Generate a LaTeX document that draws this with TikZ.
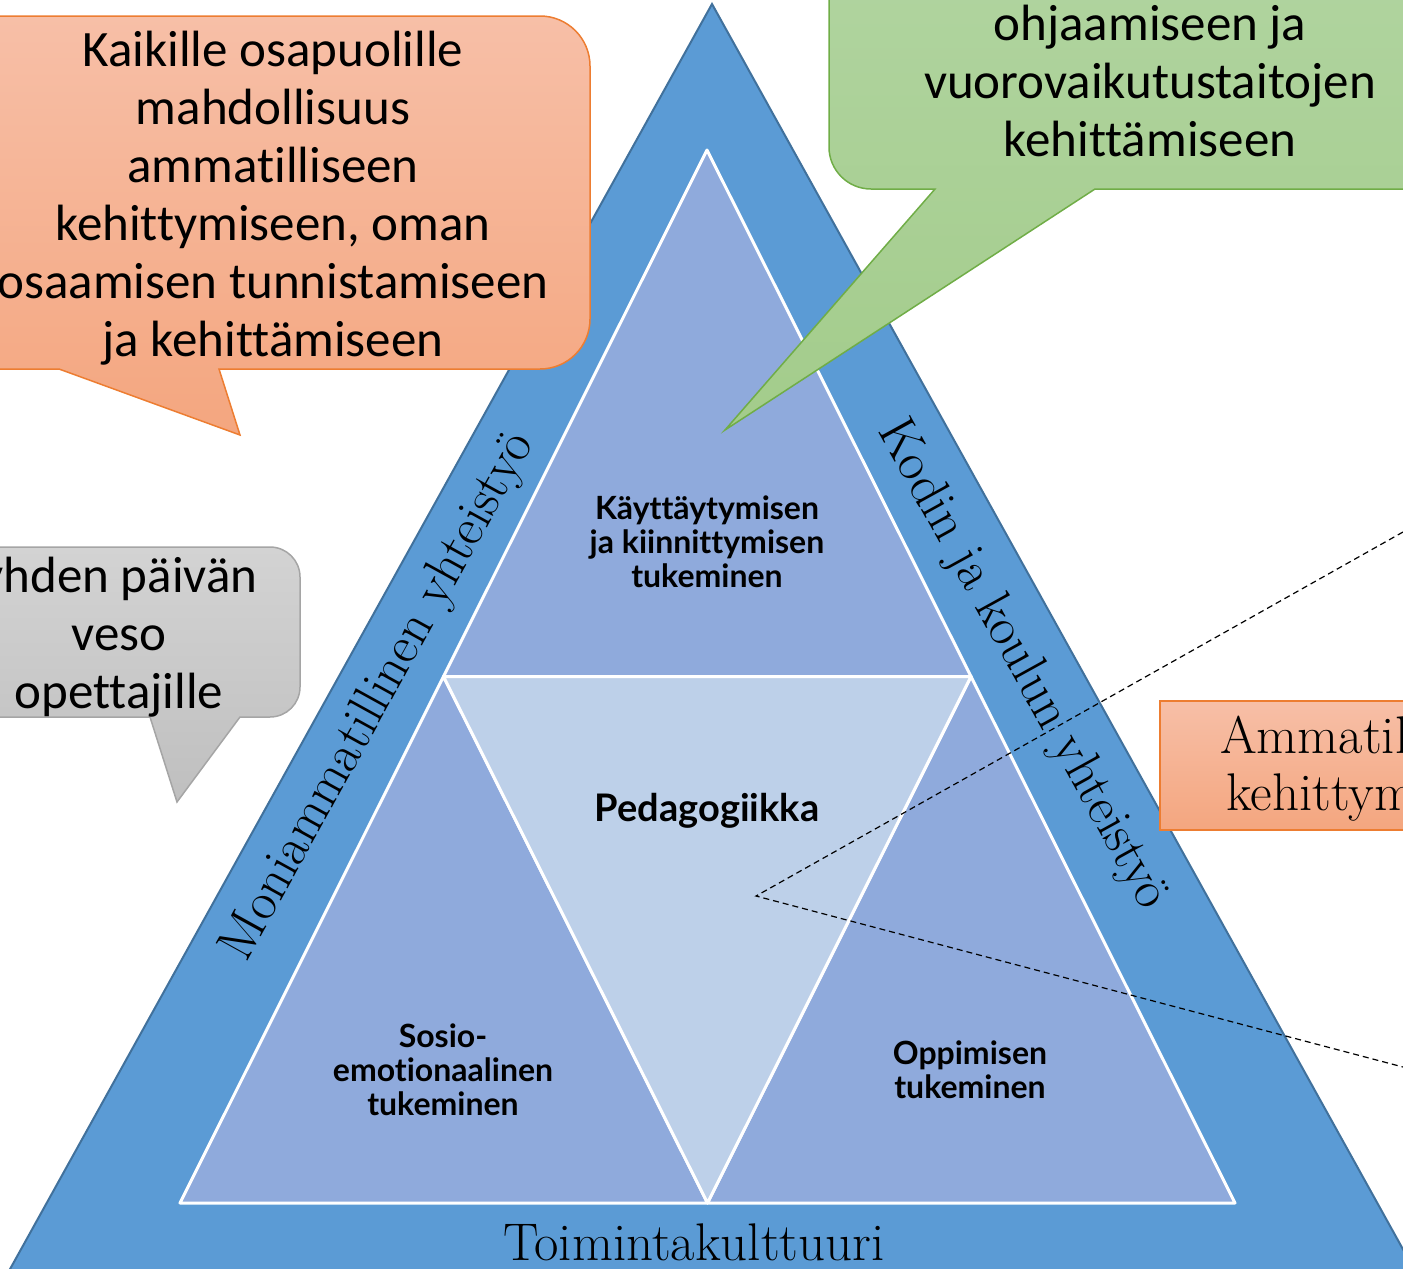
\documentclass[tikz,border=0pt]{standalone}
\usepackage{fontspec}
\newfontfamily\calibri[Ligatures={NoCommon,NoContextual}]{Carlito}
\newfontfamily\lato[Ligatures={NoCommon,NoContextual}]{Lato}
\usetikzlibrary{positioning}
\definecolor{outerblue}{HTML}{5B9BD5}
\definecolor{edgeblue}{HTML}{41719C}
\definecolor{midblue}{HTML}{8FAADC}
\definecolor{paleblue}{HTML}{BDD0E9}
\definecolor{orangetop}{HTML}{F7BFA7}
\definecolor{orangebot}{HTML}{F4A67F}
\definecolor{orangeedge}{HTML}{ED7D31}
\definecolor{greentop}{HTML}{B2D5A2}
\definecolor{greenbot}{HTML}{A3CC8B}
\definecolor{greenedge}{HTML}{70AD47}
\definecolor{graytop}{HTML}{D3D3D3}
\definecolor{graybot}{HTML}{BFBFBF}
\definecolor{grayedge}{HTML}{A5A5A5}
\tikzset{
  piece/.style={
    fill=#1,
    draw=white,
    line width=3pt,
    line join=round,
  },
  bubble/.style 2 args={
    top color=#1,
    bottom color=#2,
    line width=1.5pt,
  },
  callout text/.style={
    align=center,
    font=\calibri\fontsize{51}{58}\selectfont,
  },
  block text/.style={
    align=center,
    font=\lato\bfseries\fontsize{32}{34}\selectfont,
  },
  side text/.style={
    font=\fontsize{53}{58}\selectfont,
  },
  zoom line/.style={
    dash pattern=on 6pt off 4pt,
    line width=1.2pt,
  }
}

\begin{document}
\begin{tikzpicture}[x=1pt, y=-1pt]
        \useasboundingbox (0,0) rectangle (1403,1269);
        \clip (0,0) rectangle (1403,1269);

        % outer triangle
        \path [fill=outerblue, draw=edgeblue, line width=2pt] (712,4) -- (1440,1316) -- (-16,1316) -- cycle;

        % inner triangles
        \coordinate (top) at (707,150);
        \coordinate (bl) at (180,1203);
        \coordinate (br) at (1235,1203);
        \coordinate (ml) at (443.5,676.5);
        \coordinate (mr) at (971,676.5);
        \coordinate (mb) at (707.5,1203);
        \path [piece=midblue] (top) -- (mr) -- (ml) -- cycle;
        \path [piece=midblue] (ml) -- (mb) -- (bl) -- cycle;
        \path [piece=midblue] (mr) -- (br) -- (mb) -- cycle;
        \path [piece=paleblue] (ml) -- (mr) -- (mb) -- cycle;

        \node [block text] (kayt) at (707,542) {Käyttäytymisen\\ja kiinnittymisen\\tukeminen};
        \node [block text, font=\lato\bfseries\fontsize{38}{40}\selectfont] (peda) at (707,811) {Pedagogiikka};
        \node [block text] (sosio) at (443,1070) {Sosio-\\emotionaalinen\\tukeminen};
        \node [block text] (oppi) at (970,1070) {Oppimisen\\tukeminen};

        \node [side text, rotate=61.1] (moni) at (379,697) {Moniammatillinen yhteistyö};
        \node [side text, rotate=-61.1] (koti) at (1022,665) {Kodin ja koulun yhteistyö};
        \node [side text] (toim) at (694,1242) {Toimintakulttuuri};

        % callouts
        \path [bubble={orangetop}{orangebot}, draw=orangeedge]
          (-60,16) -- (540,16) arc [start angle=-90, end angle=0, radius=50]
          -- (590,319) arc [start angle=0, end angle=90, radius=50]
          -- (219,369) -- (240,435) -- (59,369) -- (-60,369) -- cycle;
        \node [callout text] (kaikille) at (273,198) {Kaikille osapuolille\\mahdollisuus\\ammatilliseen\\kehittymiseen, oman\\osaamisen tunnistamiseen\\ja kehittämiseen};

        \path [bubble={greentop}{greenbot}, draw=greenedge]
          (829,-100) -- (1460,-100) -- (1460,189) -- (1095,189) -- (725,430)
          -- (935,189) -- (871,189) arc [start angle=90, end angle=180, radius=42]
          -- cycle;
        \node [callout text] (ohjaus) at (1150,81) {ohjaamiseen ja\\vuorovaikutustaitojen\\kehittämiseen};

        \path [bubble={graytop}{graybot}, draw=grayedge]
          (-60,547) -- (270,547) arc [start angle=-90, end angle=0, radius=30]
          -- (300,687) arc [start angle=0, end angle=90, radius=30]
          -- (240,717) -- (177,802) -- (150,717) -- (-60,717) -- cycle;
        \node [callout text] (veso) at (119,637) {yhden päivän\\veso\\opettajille};

        \path [bubble={orangetop}{orangebot}, draw=orangeedge] (1160,701) rectangle (1460,830);
        \node [side text, anchor=base west, inner sep=0pt] (amm) at (1220,753) {Ammatil};
        \node [side text, anchor=base west, inner sep=0pt] (keh) at (1226,810) {kehittym};

        % zoom lines
        \coordinate (focus) at (756,896);
        \coordinate (upend) at (1403,532);
        \coordinate (lowend) at (1403,1067);
        \draw [zoom line] (upend) -- (focus) -- (lowend);
      \end{tikzpicture}
\end{document}
